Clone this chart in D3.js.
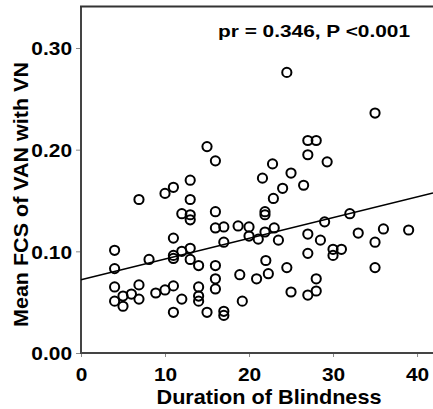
<!DOCTYPE html>
<html lang="en">
<head>
    <meta charset="UTF-8">
    <title>Duration of Blindness vs Mean FCS</title>
    <script src="https://d3js.org/d3.v7.min.js"></script>
    <style>
        html, body { margin: 0; padding: 0; background: #fff; overflow: hidden; }
        body { font-family: 'Liberation Sans', Arial, sans-serif; }
        svg text { font-weight: 700; fill: #000; }
    </style>
</head>
<body>
    <div id="chart"></div>
    <script>
        // duration of blindness (years)
        const duration = [
            24.5, 35, 15, 16, 27, 28, 27, 29.3, 22.8, 21.6, 25, 24, 26.5, 22.9,
            13, 11, 10, 6.9, 13, 12, 13, 13, 16, 16, 17, 18.7, 20,
            21.9, 21.9, 23, 21.9, 21.1, 20, 23.5, 17, 11, 13, 12, 11, 11,
            13, 14, 16, 8.1, 22, 4, 4, 16, 16, 18.9, 20.9, 22.3, 24.5,
            25, 8.9, 10, 11, 12, 14, 14, 14, 11, 15, 17, 17, 19.2,
            4, 6.9, 6, 5, 4, 5, 6.9,
            27, 28.5, 29, 32, 33, 35, 36, 39, 27, 30, 30, 31, 35, 28, 28, 27
        ];
        // mean FCS of VAN with VN
        const fcs = [
            0.276, 0.236, 0.203, 0.189, 0.209, 0.209, 0.195, 0.188, 0.186, 0.172, 0.177, 0.162, 0.165, 0.152,
            0.170, 0.163, 0.157, 0.151, 0.151, 0.137, 0.136, 0.131, 0.139, 0.123, 0.124, 0.125, 0.124,
            0.139, 0.136, 0.123, 0.119, 0.112, 0.115, 0.111, 0.109, 0.113, 0.103, 0.100, 0.096, 0.093,
            0.092, 0.086, 0.086, 0.092, 0.091, 0.101, 0.083, 0.073, 0.063, 0.077, 0.073, 0.078, 0.084,
            0.060, 0.059, 0.062, 0.066, 0.053, 0.065, 0.056, 0.051, 0.040, 0.040, 0.041, 0.037, 0.051,
            0.065, 0.067, 0.058, 0.056, 0.051, 0.046, 0.053,
            0.117, 0.111, 0.129, 0.137, 0.118, 0.109, 0.122, 0.121, 0.098, 0.102, 0.096, 0.102, 0.084, 0.073, 0.061, 0.057
        ];
        const points = duration.map((d, i) => ({ x: d, y: fcs[i] }));

        // fitted line
        const fitIntercept = 0.072;
        const fitSlope = 0.00204;

        const xTicks = [0, 10, 20, 30, 40];
        const yTicks = [0, 0.10, 0.20, 0.30];
        const annotation = "pr = 0.346, P <0.001";

        const width = 433, height = 409;
        const margin = { top: 6.5, right: 0, bottom: 56, left: 81 };
        const stretch = 1.1; // the original text is a little wide

        const svg = d3.select("#chart").append("svg")
            .attr("width", width)
            .attr("height", height);

        const x = d3.scaleLinear()
            .domain([0, 41.9])
            .range([margin.left, width - margin.right]);

        const y = d3.scaleLinear()
            .domain([0, 0.3])
            .range([353, 48]);

        // axes
        const xAxis = svg.append("g")
            .attr("transform", `translate(0, ${y(0)})`)
            .call(d3.axisBottom(x).tickValues(xTicks).tickSize(4).tickFormat(d3.format("d")));

        const yAxis = svg.append("g")
            .attr("transform", `translate(${margin.left}, 0)`)
            .call(d3.axisLeft(y).tickValues(yTicks).tickSize(5).tickPadding(4).tickFormat(d3.format(".2f")));

        [xAxis, yAxis].forEach(g => {
            g.select(".domain").remove();
            g.selectAll(".tick line").attr("stroke", "#888").attr("stroke-width", 1);
            g.selectAll(".tick text")
                .attr("font-family", "'Liberation Sans', Arial, sans-serif")
                .attr("font-size", 19)
                .attr("font-weight", 700)
                .attr("fill", "#000");
        });
        xAxis.selectAll(".tick text").attr("y", 28).attr("dy", 0);
        yAxis.selectAll(".tick text").attr("dy", "0.36em");

        // widen texts a touch to match the reference
        function widen(sel) {
            sel.each(function () {
                const w = this.getComputedTextLength();
                d3.select(this).attr("textLength", w * stretch).attr("lengthAdjust", "spacingAndGlyphs");
            });
        }
        widen(xAxis.selectAll(".tick text"));
        widen(yAxis.selectAll(".tick text"));

        // frame lines: left, bottom, top
        svg.append("line")
            .attr("x1", x(0)).attr("x2", x(0))
            .attr("y1", margin.top).attr("y2", y(0))
            .attr("stroke", "#444").attr("stroke-width", 2);
        svg.append("line")
            .attr("x1", x(0) - 1).attr("x2", width)
            .attr("y1", y(0)).attr("y2", y(0))
            .attr("stroke", "#444").attr("stroke-width", 2);
        svg.append("line")
            .attr("x1", x(0) - 1).attr("x2", width)
            .attr("y1", margin.top).attr("y2", margin.top)
            .attr("stroke", "#333").attr("stroke-width", 2);

        // regression line
        const xMax = x.domain()[1];
        svg.append("line")
            .attr("x1", x(0)).attr("y1", y(fitIntercept))
            .attr("x2", x(xMax)).attr("y2", y(fitIntercept + fitSlope * xMax))
            .attr("stroke", "#000").attr("stroke-width", 1.5);

        // points
        svg.selectAll("circle.pt")
            .data(points)
            .enter()
            .append("circle")
            .attr("class", "pt")
            .attr("cx", d => x(d.x))
            .attr("cy", d => y(d.y))
            .attr("r", 4.6)
            .attr("fill", "none")
            .attr("stroke", "#000")
            .attr("stroke-width", 2);

        // annotation
        svg.append("text")
            .attr("x", 218).attr("y", 36.5)
            .attr("font-size", 16.5)
            .attr("textLength", 192)
            .attr("lengthAdjust", "spacingAndGlyphs")
            .text(annotation);

        // axis titles
        svg.append("text")
            .attr("x", 269).attr("y", 403.5)
            .attr("text-anchor", "middle")
            .attr("font-size", 20.5)
            .attr("textLength", 225)
            .attr("lengthAdjust", "spacingAndGlyphs")
            .text("Duration of Blindness");

        svg.append("text")
            .attr("transform", "translate(28, 194.5) rotate(-90)")
            .attr("text-anchor", "middle")
            .attr("font-size", 19.5)
            .attr("textLength", 265)
            .attr("lengthAdjust", "spacingAndGlyphs")
            .text("Mean FCS of VAN with VN");
    </script>
</body>
</html>
